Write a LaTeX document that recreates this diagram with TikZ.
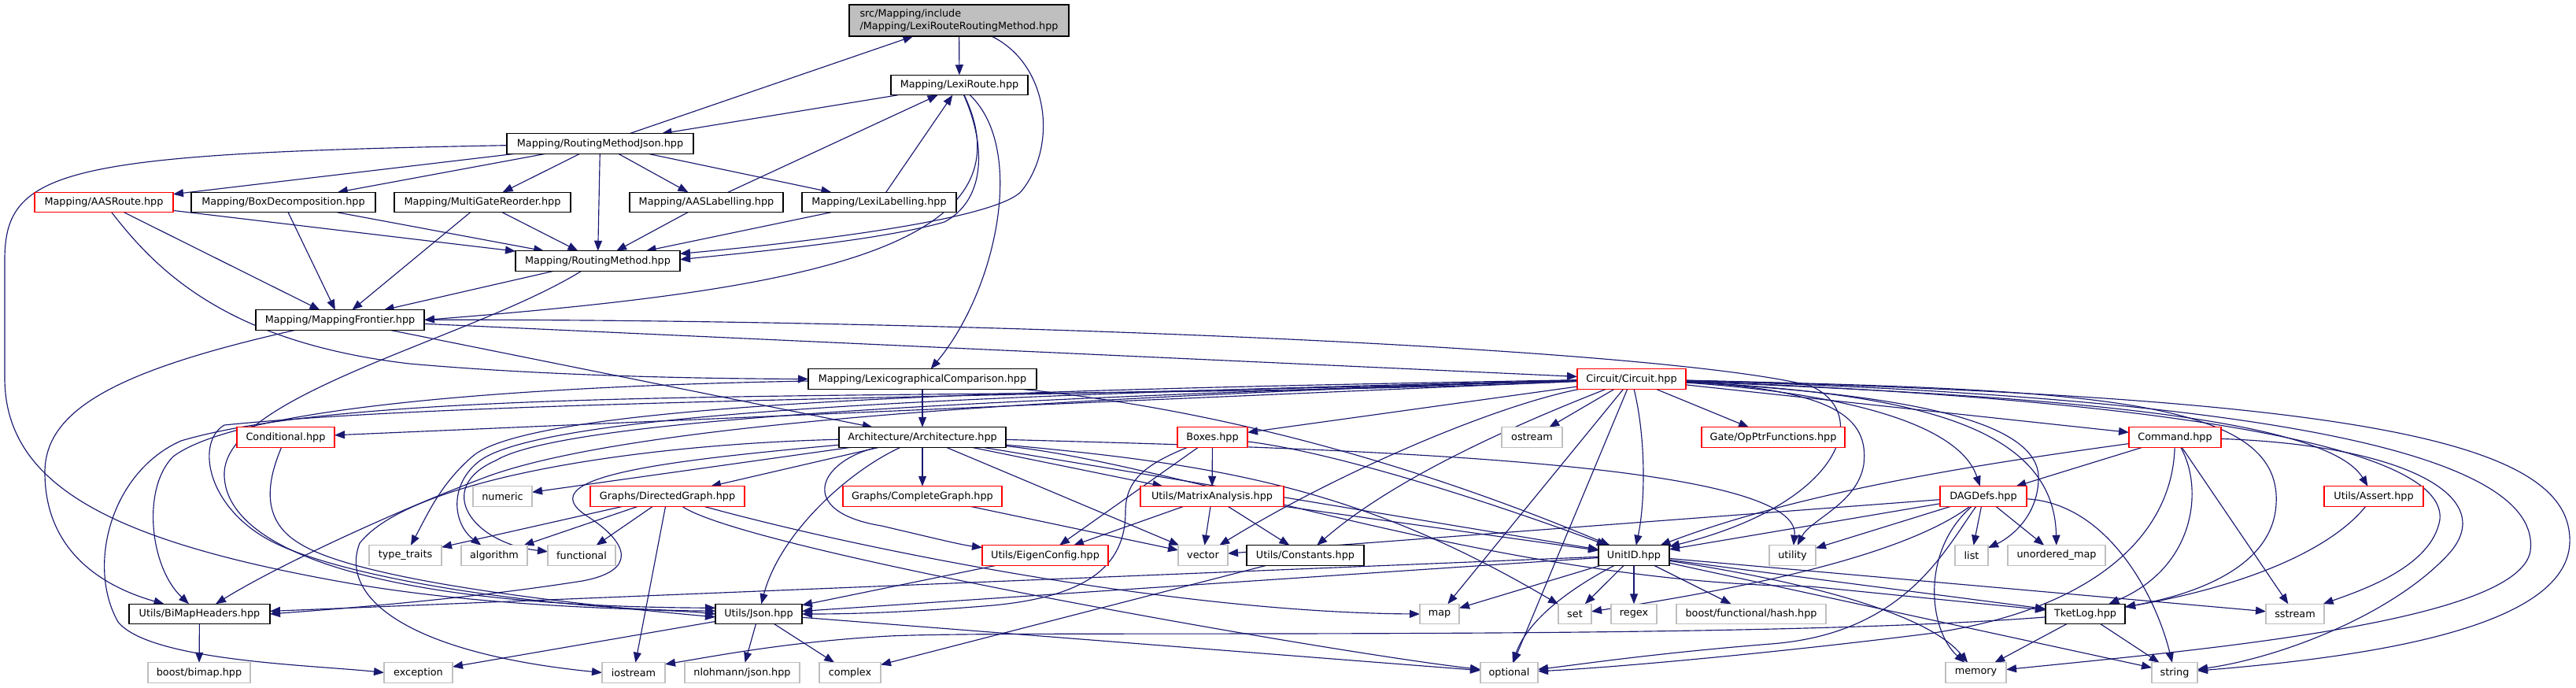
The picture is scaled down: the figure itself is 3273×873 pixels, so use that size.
\documentclass[tikz,border=0pt]{standalone}
\usepackage{fontspec}
\setmainfont{DejaVu Sans}
\usetikzlibrary{arrows.meta,backgrounds}
\definecolor{edgec}{HTML}{191970}
\definecolor{gry}{HTML}{BFBFBF}
\definecolor{redc}{HTML}{FF0000}
\tikzset{
  nd/.style={draw=black, line width=1.2pt, fill=white, inner sep=0pt, outer sep=0pt,
     minimum height=25.5pt, font=\fontsize{12.8}{16}\selectfont},
  rd/.style={nd, draw=redc},
  sy/.style={nd, draw=gry},
  edg/.style={draw=edgec, line width=1.15pt, -{Triangle[length=13pt,width=10pt]}, fill=none}
}
\begin{document}
\begin{tikzpicture}[x=1pt,y=-1pt]
\useasboundingbox (0,0) rectangle (3273,873);
% nodes
\node[nd, fill=gry, minimum width=279pt, minimum height=40pt, align=left] (T) at (1218.5,26) {src/Mapping/include\\/Mapping/LexiRouteRoutingMethod.hpp};
\node[nd, minimum width=174pt] (LR) at (1219,108) {Mapping/LexiRoute.hpp};
\node[nd, minimum width=237pt] (RMJ) at (762.5,182.5) {Mapping/RoutingMethodJson.hpp};
\node[rd, minimum width=176pt] (AAS) at (132,257) {Mapping/AASRoute.hpp};
\node[nd, minimum width=234pt] (BD) at (360,257) {Mapping/BoxDecomposition.hpp};
\node[nd, minimum width=224pt] (MGR) at (613,257) {Mapping/MultiGateReorder.hpp};
\node[nd, minimum width=195pt] (AASL) at (897.5,257) {Mapping/AASLabelling.hpp};
\node[nd, minimum width=196pt] (LL) at (1117,257) {Mapping/LexiLabelling.hpp};
\node[nd, minimum width=209pt] (RM) at (759.5,331.5) {Mapping/RoutingMethod.hpp};
\node[nd, minimum width=214pt] (MF) at (432,406.5) {Mapping/MappingFrontier.hpp};
\node[nd, minimum width=290pt] (LC) at (1172,481.5) {Mapping/LexicographicalComparison.hpp};
\node[rd, minimum width=138pt] (CIR) at (2073,481.5) {Circuit/Circuit.hpp};
\node[rd, minimum width=124pt] (COND) at (363,555.5) {Conditional.hpp};
\node[nd, minimum width=212pt] (ARCH) at (1172,555.5) {Architecture/Architecture.hpp};
\node[rd, minimum width=89pt] (BOX) at (1540.5,555.5) {Boxes.hpp};
\node[sy, minimum width=77pt] (OST) at (1946.5,555.5) {ostream};
\node[rd, minimum width=182pt] (GOP) at (2253,555.5) {Gate/OpPtrFunctions.hpp};
\node[rd, minimum width=117pt] (CMD) at (2763.5,555.5) {Command.hpp};
\node[sy, minimum width=75pt] (NUM) at (638.5,630.5) {numeric};
\node[rd, minimum width=196pt] (DG) at (848,630.5) {Graphs/DirectedGraph.hpp};
\node[rd, minimum width=202pt] (CG) at (1172,630.5) {Graphs/CompleteGraph.hpp};
\node[rd, minimum width=182pt] (MA) at (1540,630.5) {Utils/MatrixAnalysis.hpp};
\node[rd, minimum width=110pt] (DAG) at (2520,630.5) {DAGDefs.hpp};
\node[rd, minimum width=126pt] (ASSERT) at (3016,630.5) {Utils/Assert.hpp};
\node[sy, minimum width=92pt] (TT) at (515,705.5) {type\_traits};
\node[sy, minimum width=84pt] (ALG) at (628,705.5) {algorithm};
\node[sy, minimum width=86pt] (FUN) at (739,705.5) {functional};
\node[rd, minimum width=160pt] (EIG) at (1328,705.5) {Utils/EigenConfig.hpp};
\node[sy, minimum width=63pt] (VEC) at (1528.5,705.5) {vector};
\node[nd, minimum width=149pt] (CONST) at (1658.5,705.5) {Utils/Constants.hpp};
\node[nd, minimum width=90pt] (UID) at (2076,705.5) {UnitID.hpp};
\node[sy, minimum width=59pt] (UTIL) at (2277.5,705.5) {utility};
\node[sy, minimum width=42pt] (LIST) at (2505,705.5) {list};
\node[sy, minimum width=124pt] (UMAP) at (2613,705.5) {unordered\_map};
\node[nd, minimum width=179pt] (BIMAP) at (253.5,780) {Utils/BiMapHeaders.hpp};
\node[nd, minimum width=110pt] (JSON) at (964,780) {Utils/Json.hpp};
\node[sy, minimum width=50pt] (MAP) at (1829,780) {map};
\node[sy, minimum width=42pt] (SET) at (2001,780) {set};
\node[sy, minimum width=58pt] (REGEX) at (2076,780) {regex};
\node[sy, minimum width=190pt] (HASH) at (2225,780) {boost/functional/hash.hpp};
\node[nd, minimum width=101pt] (TKLOG) at (2649.5,780) {TketLog.hpp};
\node[sy, minimum width=74pt] (SSTR) at (2916,780) {sstream};
\node[sy, minimum width=130pt] (BBIMAP) at (253,854.5) {boost/bimap.hpp};
\node[sy, minimum width=87pt] (EXC) at (531.5,854.5) {exception};
\node[sy, minimum width=80pt] (IOS) at (805,854.5) {iostream};
\node[sy, minimum width=146pt] (NLOH) at (943,854.5) {nlohmann/json.hpp};
\node[sy, minimum width=78pt] (CPLX) at (1080,854.5) {complex};
\node[sy, minimum width=73pt] (OPT) at (1917.5,854.5) {optional};
\node[sy, minimum width=77pt] (MEM) at (2510.5,854.5) {memory};
\node[sy, minimum width=58pt] (STR) at (2763,854.5) {string};

\begin{scope}[on background layer]
% top part
\draw[edg] (T) -- (LR);
\draw[edg] (T) .. controls (1330,80) and (1345,180) .. (1300,240) .. controls (1275,280) and (1000,310) .. (RM.5);
\draw[edg] (RMJ) -- (T);
\draw[edg] (LR) -- (RMJ);
\draw[edg] (AASL) -- (LR);
\draw[edg] (LL) -- (LR);
\draw[edg] (LR) .. controls (1255,190) and (1250,255) .. (1200,282) .. controls (1120,305) and (960,320) .. (RM.1);
\draw[edg] (LR) .. controls (1320,320) and (1000,370) .. (MF.east);
\draw[edg] (LR) .. controls (1305,190) and (1265,370) .. (LC);
\draw[edg] (RMJ) -- (AAS);
\draw[edg] (RMJ) -- (BD);
\draw[edg] (RMJ) -- (MGR);
\draw[edg] (RMJ) -- (RM);
\draw[edg] (RMJ) -- (AASL);
\draw[edg] (RMJ) -- (LL);
\draw[edg] (RMJ) .. controls (80,195) and (6,215) .. (6,330) -- (6,480) .. controls (6,620) and (150,690) .. (450,742) .. controls (650,775) and (830,772) .. (JSON.west);
\draw[edg] (AAS) -- (RM);
\draw[edg] (AAS) -- (MF);
\draw[edg] (AAS) .. controls (200,345) and (290,435) .. (520,462) .. controls (700,478) and (900,481) .. (LC.west);
\draw[edg] (BD) -- (RM);
\draw[edg] (BD) -- (MF);
\draw[edg] (MGR) -- (RM);
\draw[edg] (MGR) -- (MF);
\draw[edg] (AASL) -- (RM);
\draw[edg] (LL) -- (RM);
\draw[edg] (RM) -- (MF);
\draw[edg] (RM) .. controls (600,430) and (290,500) .. (285,600) .. controls (282,690) and (450,770) .. (JSON.172);
% MappingFrontier
\draw[edg] (MF) .. controls (150,470) and (57,520) .. (57,600) .. controls (57,700) and (130,745) .. (BIMAP);
\draw[edg] (MF) -- (ARCH);
\draw[edg] (MF) -- (CIR);
\draw[edg] (MF) .. controls (1200,405) and (2100,440) .. (2300,490) .. controls (2380,525) and (2340,640) .. (UID);
% LexicographicalComparison
\draw[edg] (LC) -- (ARCH);
\draw[edg] (LC) .. controls (1550,520) and (1800,590) .. (UID);
\draw[edg] (LC) .. controls (800,488) and (320,505) .. (220,580) .. controls (180,620) and (190,720) .. (BIMAP);
% Architecture
\draw[edg] (ARCH) -- (NUM);
\draw[edg] (ARCH) -- (DG);
\draw[edg] (ARCH) -- (CG);
\draw[edg] (ARCH) -- (MA);
\draw[edg] (ARCH) -- (VEC);
\draw[edg] (ARCH) .. controls (1040,585) and (1010,650) .. (1120,668) .. controls (1180,682) and (1220,692) .. (EIG);
\draw[edg] (ARCH) .. controls (1075,600) and (990,680) .. (JSON);
\draw[edg] (ARCH) .. controls (850,585) and (670,605) .. (745,655) .. controls (800,690) and (810,725) .. (740,738) .. controls (600,760) and (450,772) .. (BIMAP.east);
\draw[edg] (ARCH) -- (UID);
\draw[edg] (ARCH) .. controls (1500,590) and (1900,740) .. (2300,745) -- (TKLOG);
\draw[edg] (ARCH) .. controls (1700,570) and (2290,585) .. (UTIL);
\draw[edg] (ARCH) .. controls (1550,590) and (1730,620) .. (SET);
\draw[edg] (ARCH) .. controls (800,565) and (520,610) .. (457,690) .. controls (430,760) and (520,830) .. (IOS.west);
% Circuit
\draw[edg] (CIR) -- (COND);
\draw[edg] (CIR) -- (BOX);
\draw[edg] (CIR) -- (OST);
\draw[edg] (CIR) -- (GOP);
\draw[edg] (CIR) -- (CMD);
\draw[edg] (CIR) .. controls (2350,500) and (2490,540) .. (DAG);
\draw[edg] (CIR) .. controls (2500,500) and (2950,520) .. (ASSERT);
\draw[edg] (CIR) .. controls (2700,505) and (3110,560) .. (3100,660) .. controls (3090,720) and (3000,750) .. (SSTR);
\draw[edg] (CIR) .. controls (2900,505) and (3230,580) .. (3215,700) .. controls (3200,790) and (2800,825) .. (MEM);
\draw[edg] (CIR) .. controls (3000,505) and (3270,560) .. (3265,690) .. controls (3260,800) and (3000,835) .. (STR);
\draw[edg] (CIR) .. controls (2650,495) and (2900,505) .. (2892,640) .. controls (2888,720) and (2790,755) .. (TKLOG);
\draw[edg] (CIR) .. controls (2400,500) and (2595,530) .. (2590,610) .. controls (2588,660) and (2550,685) .. (LIST);
\draw[edg] (CIR) .. controls (2430,500) and (2610,540) .. (UMAP);
\draw[edg] (CIR) .. controls (2330,495) and (2375,530) .. (2368,590) .. controls (2360,640) and (2300,660) .. (UTIL);
\draw[edg] (CIR) .. controls (2092,560) and (2090,640) .. (UID);
\draw[edg] (CIR) -- (MAP);
\draw[edg] (CIR) -- (OPT);
\draw[edg] (CIR) .. controls (1900,515) and (1700,600) .. (VEC);
\draw[edg] (CIR) .. controls (1950,530) and (1780,600) .. (CONST);
\draw[edg] (CIR) .. controls (1300,495) and (680,510) .. (600,580) .. controls (560,615) and (545,650) .. (TT);
\draw[edg] (CIR) .. controls (1300,500) and (700,520) .. (610,585) .. controls (570,615) and (575,665) .. (ALG);
\draw[edg] (CIR) .. controls (1300,505) and (720,530) .. (630,585) .. controls (550,620) and (600,690) .. (FUN);
\draw[edg] (CIR) .. controls (1300,505) and (800,540) .. (620,605) .. controls (500,650) and (350,720) .. (BIMAP);
\draw[edg] (CIR) .. controls (1300,505) and (600,508) .. (285,540) .. controls (250,560) and (260,640) .. (340,685) .. controls (430,735) and (700,775) .. (JSON.176);
\draw[edg] (CIR) .. controls (1300,515) and (500,480) .. (230,560) .. controls (140,600) and (110,720) .. (150,790) .. controls (190,840) and (400,845) .. (EXC.west);
% Conditional
\draw[edg] (COND) .. controls (340,610) and (330,660) .. (380,690) .. controls (450,735) and (700,765) .. (JSON.184);
% Boxes
\draw[edg] (BOX) -- (MA);
\draw[edg] (BOX) -- (EIG);
\draw[edg] (BOX) .. controls (1455,590) and (1430,610) .. (1430,650) .. controls (1430,720) and (1380,760) .. (1250,770) .. controls (1150,778) and (1080,780) .. (JSON.east);
\draw[edg] (BOX) .. controls (1700,575) and (1900,640) .. (UID);
% MatrixAnalysis, CompleteGraph, EigenConfig, Constants
\draw[edg] (MA) -- (EIG);
\draw[edg] (MA) -- (VEC);
\draw[edg] (MA) -- (CONST);
\draw[edg] (MA) -- (UID);
\draw[edg] (CG) -- (VEC);
\draw[edg] (EIG) -- (JSON);
\draw[edg] (CONST) -- (CPLX);
% DirectedGraph
\draw[edg] (DG) -- (TT);
\draw[edg] (DG) -- (ALG);
\draw[edg] (DG) -- (FUN);
\draw[edg] (DG) -- (IOS);
\draw[edg] (DG) .. controls (950,700) and (1700,830) .. (OPT);
\draw[edg] (DG) .. controls (1100,700) and (1500,778) .. (MAP.west);
% DAGDefs
\draw[edg] (DAG) -- (LIST);
\draw[edg] (DAG) -- (UMAP);
\draw[edg] (DAG) .. controls (2680,640) and (2740,760) .. (STR);
\draw[edg] (DAG) .. controls (2470,700) and (2420,805) .. (2250,818) .. controls (2100,830) and (2000,845) .. (OPT);
\draw[edg] (DAG) .. controls (2440,690) and (2300,735) .. (SET);
\draw[edg] (DAG) -- (VEC);
\draw[edg] (DAG) -- (UTIL);
\draw[edg] (DAG) -- (UID);
\draw[edg] (DAG) .. controls (2440,700) and (2450,800) .. (MEM);
% Command
\draw[edg] (CMD) -- (DAG);
\draw[edg] (CMD) .. controls (2550,585) and (2300,620) .. (UID);
\draw[edg] (CMD) .. controls (2800,620) and (2790,720) .. (TKLOG);
\draw[edg] (CMD) -- (SSTR);
\draw[edg] (CMD) .. controls (3050,565) and (3180,630) .. (3110,705) .. controls (3040,780) and (2900,835) .. (STR);
\draw[edg] (CMD) .. controls (2760,680) and (2660,775) .. (2450,805) .. controls (2250,830) and (2050,848) .. (OPT);
% Assert
\draw[edg] (ASSERT) .. controls (2960,700) and (2850,745) .. (TKLOG);
% UnitID
\draw[edg] (UID) -- (MAP);
\draw[edg] (UID) -- (SET);
\draw[edg] (UID) -- (REGEX);
\draw[edg] (UID) -- (HASH);
\draw[edg] (UID) .. controls (1990,750) and (1940,790) .. (OPT);
\draw[edg] (UID) -- (SSTR);
\draw[edg] (UID) -- (TKLOG);
\draw[edg] (UID) -- (STR);
\draw[edg] (UID) .. controls (2300,740) and (2450,780) .. (MEM);
\draw[edg] (UID) -- (BIMAP);
\draw[edg] (UID) -- (JSON);
% TketLog
\draw[edg] (TKLOG) -- (MEM);
\draw[edg] (TKLOG) -- (STR);
\draw[edg] (TKLOG) .. controls (2200,815) and (1300,800) .. (1130,808) .. controls (1000,815) and (900,835) .. (IOS.15);
% Json, BiMap
\draw[edg] (JSON) -- (NLOH);
\draw[edg] (JSON) -- (CPLX);
\draw[edg] (JSON) -- (EXC);
\draw[edg] (JSON) -- (OPT);
\draw[edg] (BIMAP) -- (BBIMAP);
\end{scope}
\end{tikzpicture}
\end{document}
